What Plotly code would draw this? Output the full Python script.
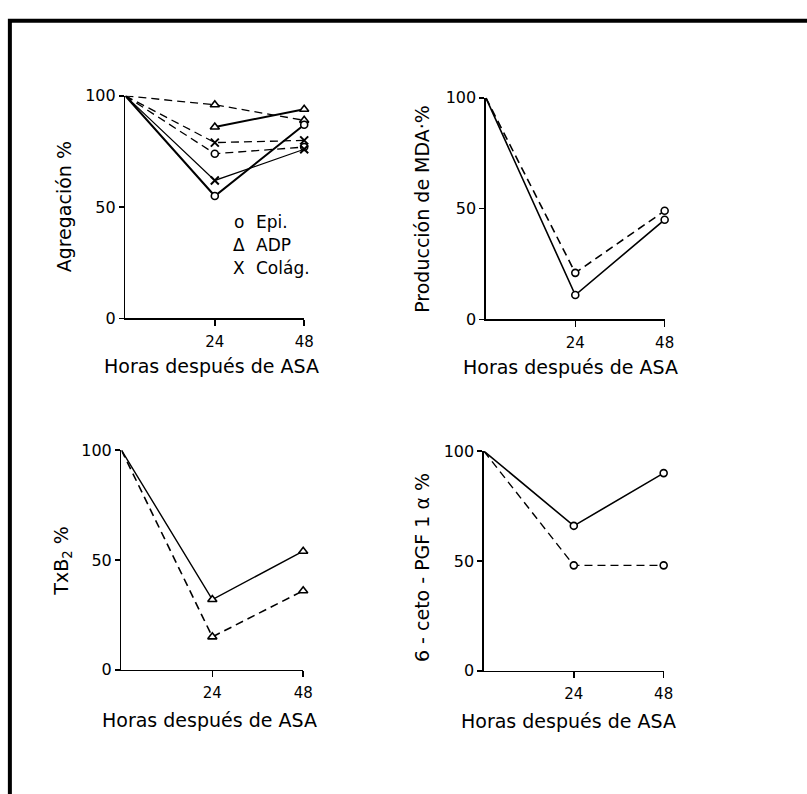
import plotly.graph_objects as go

W, H = 807, 794

hours = [0, 24, 48]
tick_vals_x = [24, 48]
tick_vals_y = [0, 50, 100]

# Panel 1: Agregación %
agg_epi_solid = [100, 55, 87]
agg_epi_dash = [100, 74, 77]
agg_adp_solid = [None, 86, 94]
agg_adp_dash = [100, 96, 89]
agg_col_solid = [100, 62, 76]
agg_col_dash = [100, 79, 80]

# Panel 2: Producción de MDA %
mda_solid = [100, 11, 45]
mda_dash = [100, 21, 49]

# Panel 3: TxB2 %
txb_solid = [100, 32, 54]
txb_dash = [100, 15, 36]

# Panel 4: 6-ceto-PGF1α %
pgf_solid = [100, 66, 90]
pgf_dash = [100, 48, 48]

x_title = "Horas después de ASA"
y_titles = ["Agregación %", "Producción de MDA·%", "TxB<sub>2</sub> %", "6 - ceto - PGF 1 α %"]
legend_items = [("o", "Epi."), ("Δ", "ADP"), ("X", "Colág.")]

FONT = "DejaVu Sans"

# panel pixel boxes: (x_left, x_right, y_bottom, y_top)
boxes = [
    (127, 308, 317, 89),
    (492, 673, 318, 91),
    (123, 307, 677, 452),
    (490, 672, 678, 453),
]

fig = go.Figure()

DASH = "8px,5px"


def add_series(i, y, dash, symbol, lw):
    ax = "" if i == 0 else str(i + 1)
    fig.add_trace(go.Scatter(
        x=hours, y=y, mode="lines", xaxis="x" + ax, yaxis="y" + ax,
        line=dict(color="black", width=lw, dash=dash),
        connectgaps=False, showlegend=False, hoverinfo="skip", cliponaxis=False))
    if symbol == "x-thin":
        marker = dict(symbol="x-thin", size=8, line=dict(color="black", width=2))
    else:
        marker = dict(symbol=symbol, size=8 if symbol == "triangle-up" else 7,
                      color="white", line=dict(color="black", width=1.6))
    fig.add_trace(go.Scatter(
        x=hours[1:], y=y[1:], mode="markers", xaxis="x" + ax, yaxis="y" + ax,
        marker=marker, showlegend=False, hoverinfo="skip", cliponaxis=False))


# Panel 1
add_series(0, agg_adp_dash, DASH, "triangle-up", 1.3)
add_series(0, agg_col_dash, DASH, "x-thin", 1.3)
add_series(0, agg_epi_dash, DASH, "circle", 1.3)
add_series(0, agg_adp_solid, "solid", "triangle-up", 2)
add_series(0, agg_col_solid, "solid", "x-thin", 1.2)
add_series(0, agg_epi_solid, "solid", "circle", 2)
# Panel 2
add_series(1, mda_dash, DASH, "circle", 1.6)
add_series(1, mda_solid, "solid", "circle", 1.6)
# Panel 3
add_series(2, txb_dash, DASH, "triangle-up", 1.6)
add_series(2, txb_solid, "solid", "triangle-up", 1.4)
# Panel 4
add_series(3, pgf_dash, DASH, "circle", 1.4)
add_series(3, pgf_solid, "solid", "circle", 1.6)

layout = dict(
    width=W, height=H, margin=dict(l=0, r=0, t=0, b=0),
    paper_bgcolor="white", plot_bgcolor="white",
    font=dict(family=FONT, color="black", size=14),
    showlegend=False,
)

annotations = []
for i, (xl, xr, yb, yt) in enumerate(boxes):
    ax = "" if i == 0 else str(i + 1)
    layout["xaxis" + ax] = dict(
        domain=[xl / W, xr / W], range=[0, 48], anchor="y" + ax,
        tickvals=tick_vals_x, ticks="outside", ticklen=6, tickwidth=1.5,
        tickcolor="black", showline=True, linecolor="black", linewidth=1.5,
        showgrid=False, zeroline=False, ticklabelstandoff=3,
        tickfont=dict(size=15, family=FONT), fixedrange=True)
    layout["yaxis" + ax] = dict(
        domain=[1 - yb / H, 1 - yt / H], range=[0, 100], anchor="x" + ax,
        tickvals=tick_vals_y, ticks="outside", ticklen=5, tickwidth=1.5,
        tickcolor="black", showline=True, linecolor="black", linewidth=1.5,
        showgrid=False, zeroline=False,
        tickfont=dict(size=16, family=FONT), fixedrange=True)

# axis titles as annotations
x_title_pos = [(214, 366), (578, 367), (212, 728), (576, 729)]
y_title_pos = [(65, 203), (427, 205), (63, 566), (428, 572)]
for (cx, cy) in x_title_pos:
    annotations.append(dict(
        text=x_title, x=cx / W, y=1 - cy / H, xref="paper", yref="paper",
        showarrow=False, xanchor="center", yanchor="middle",
        font=dict(size=19, family=FONT)))
for t, (cx, cy) in zip(y_titles, y_title_pos):
    annotations.append(dict(
        text=t, x=cx / W, y=1 - cy / H, xref="paper", yref="paper",
        showarrow=False, xanchor="center", yanchor="middle", textangle=-90,
        font=dict(size=19, family=FONT)))

# legend in panel 1
leg_rows = [218, 242, 265]
for (sym, lab), ry in zip(legend_items, leg_rows):
    annotations.append(dict(
        text=sym, x=242 / W, y=1 - ry / H, xref="paper", yref="paper",
        showarrow=False, xanchor="center", yanchor="middle",
        font=dict(size=17, family=FONT)))
    annotations.append(dict(
        text=lab, x=257 / W, y=1 - ry / H, xref="paper", yref="paper",
        showarrow=False, xanchor="left", yanchor="middle",
        font=dict(size=17, family=FONT)))

layout["annotations"] = annotations
layout["shapes"] = [dict(
    type="rect", xref="paper", yref="paper",
    x0=10 / W, x1=1.05, y0=-0.05, y1=1 - 12 / H,
    line=dict(color="black", width=4), fillcolor="rgba(0,0,0,0)")]

fig.update_layout(**layout)
fig.write_html(
    "out.html",
    config={"displayModeBar": False, "staticPlot": True},
    post_script="document.body.style.margin='0';document.body.style.overflow='hidden';",
)
